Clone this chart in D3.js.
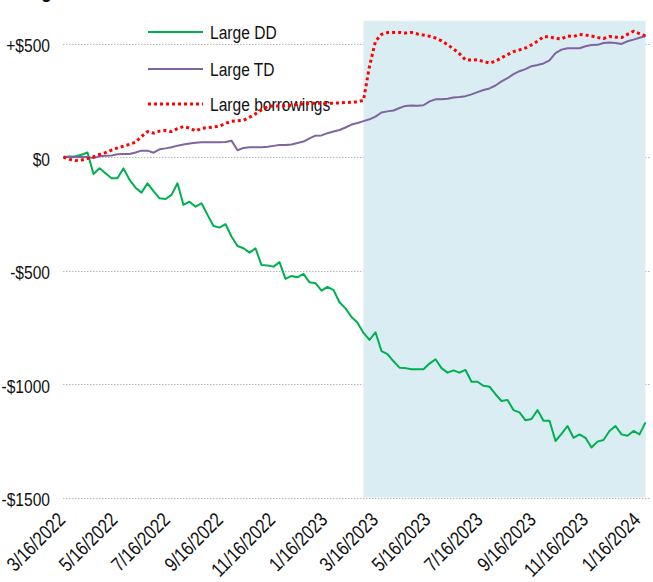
<!DOCTYPE html>
<html>
<head>
<meta charset="utf-8">
<script src="https://cdn.jsdelivr.net/npm/d3@7"></script>
<style>
  html, body { margin: 0; padding: 0; background: #ffffff; }
  svg { display: block; }
  text { font-family: "Liberation Sans", Arial, sans-serif; fill: #111; }
</style>
</head>
<body>
<svg id="chart" width="653" height="582"></svg>
<script>
// ---------- DATA ----------
const dates = [
  "2022-03-16","2022-03-23","2022-03-30","2022-04-06","2022-04-13","2022-04-20","2022-04-27","2022-05-04","2022-05-11","2022-05-18",
  "2022-05-25","2022-06-01","2022-06-08","2022-06-15","2022-06-22","2022-06-29","2022-07-06","2022-07-13","2022-07-20","2022-07-27",
  "2022-08-03","2022-08-10","2022-08-17","2022-08-24","2022-08-31","2022-09-07","2022-09-14","2022-09-21","2022-09-28","2022-10-05",
  "2022-10-12","2022-10-19","2022-10-26","2022-11-02","2022-11-09","2022-11-16","2022-11-23","2022-11-30","2022-12-07","2022-12-14",
  "2022-12-21","2022-12-28","2023-01-04","2023-01-11","2023-01-18","2023-01-25","2023-02-01","2023-02-08","2023-02-15","2023-02-22",
  "2023-03-01","2023-03-08","2023-03-15","2023-03-22","2023-03-29","2023-04-05","2023-04-12","2023-04-19","2023-04-26","2023-05-03",
  "2023-05-10","2023-05-17","2023-05-24","2023-05-31","2023-06-07","2023-06-14","2023-06-21","2023-06-28","2023-07-05","2023-07-12",
  "2023-07-19","2023-07-26","2023-08-02","2023-08-09","2023-08-16","2023-08-23","2023-08-30","2023-09-06","2023-09-13","2023-09-20",
  "2023-09-27","2023-10-04","2023-10-11","2023-10-18","2023-10-25","2023-11-01","2023-11-08","2023-11-15","2023-11-22","2023-11-29",
  "2023-12-06","2023-12-13","2023-12-20","2023-12-27","2024-01-03","2024-01-10","2024-01-17","2024-01-24"
];

const largeDD = [
  0, 2, 3, 10, 20, -75, -50, -72, -94, -94,
  -50, -100, -135, -157, -116, -150, -182, -185, -167, -116,
  -211, -197, -219, -204, -255, -304, -311, -296, -350, -392,
  -402, -421, -402, -476, -478, -483, -463, -537, -524, -530,
  -515, -552, -556, -589, -572, -586, -640, -667, -705, -730,
  -775, -806, -772, -855, -868, -900, -928, -930, -935, -935,
  -935, -910, -891, -930, -950, -940, -950, -938, -990, -990,
  -1008, -1012, -1045, -1075, -1070, -1115, -1125, -1160, -1154, -1115,
  -1162, -1162, -1251, -1220, -1185, -1237, -1222, -1237, -1280, -1254,
  -1247, -1207, -1185, -1222, -1228, -1207, -1222, -1169
];

const largeTD = [
  0, 0, 0, 0, 0, -5, 3, 5, 7, 12,
  13, 13, 20, 28, 28, 19, 34, 38, 43, 50,
  55, 59, 63, 65, 65, 65, 65, 66, 72, 30,
  40, 43, 43, 43, 45, 49, 53, 53, 55, 62,
  68, 82, 94, 95, 105, 112, 119, 130, 143, 150,
  158, 166, 178, 196, 201, 205, 216, 225, 227, 226,
  228, 245, 254, 254, 257, 262, 264, 268, 276, 286,
  295, 302, 315, 333, 347, 365, 378, 387, 400, 405,
  412, 426, 458, 473, 479, 479, 479, 488, 493, 494,
  502, 504, 502, 498, 510, 517, 525, 533
];

const largeBorrowings = [
  0, -10, -16, -13, -7, 1, 11, 19, 30, 40,
  48, 56, 65, 90, 112, 105, 114, 117, 112, 125,
  134, 128, 115, 126, 130, 132, 136, 148, 157, 160,
  162, 175, 190, 207, 222, 225, 225, 226, 228, 232,
  234, 236, 237, 237, 237, 237, 238, 240, 241, 243,
  250, 400, 510, 540, 548, 549, 549, 546, 549, 542,
  537, 532, 524, 512, 495, 476, 455, 428, 427, 429,
  420, 414, 422, 437, 451, 464, 472, 480, 494, 510,
  530, 530, 522, 520, 533, 531, 540, 537, 533, 527,
  522, 531, 528, 526, 540, 554, 543, 533
];

const seriesNames = ["Large DD", "Large TD", "Large borrowings"];
const seriesColors = ["#00b050", "#8064a2", "#ff0000"];

const yTickValues = [500, 0, -500, -1000, -1500];
const yTickLabels = ["+$500", "$0", "-$500", "-$1000", "-$1500"];

const xTickDates = ["2022-03-16","2022-05-16","2022-07-16","2022-09-16","2022-11-16","2023-01-16",
                    "2023-03-16","2023-05-16","2023-07-16","2023-09-16","2023-11-16","2024-01-16"];
const xTickLabels = ["3/16/2022","5/16/2022","7/16/2022","9/16/2022","11/16/2022","1/16/2023",
                     "3/16/2023","5/16/2023","7/16/2023","9/16/2023","11/16/2023","1/16/2024"];

const shadeStart = "2023-03-01";
const shadeEnd = "2024-01-24";
const titleText = "Large banks";

// ---------- CHART ----------
const parse = d3.utcParse("%Y-%m-%d");
const dts = dates.map(parse);
const svg = d3.select("#chart");
const NARROW = 0.82;

const x = d3.scaleUtc().domain([dts[0], dts[dts.length - 1]]).range([63.5, 645.5]);
const y = d3.scaleLinear().domain([-1500, 600]).range([497.5, 20.8]);

function narrowText(parent, tx, ty, size, anchor, txt, rot) {
  return parent.append("text")
    .attr("transform", `translate(${tx},${ty})` + (rot ? ` rotate(${rot})` : "") + ` scale(${NARROW},1)`)
    .attr("text-anchor", anchor)
    .style("font-size", size + "px")
    .text(txt);
}

// title (cut at top as in the reference)
narrowText(svg, 13, -3, 22, "start", titleText).style("font-weight", "bold");

// gridlines
svg.append("g").selectAll("line").data(yTickValues).join("line")
  .attr("x1", 63).attr("x2", 650)
  .attr("y1", d => Math.round(y(d)) + 0.5).attr("y2", d => Math.round(y(d)) + 0.5)
  .attr("stroke", "#b8b8b8").attr("stroke-width", 1).attr("stroke-dasharray", "1.5,1.5");

// shaded region
svg.append("rect")
  .attr("x", x(parse(shadeStart)))
  .attr("y", y(600))
  .attr("width", x(parse(shadeEnd)) - x(parse(shadeStart)))
  .attr("height", y(-1500) - y(600))
  .attr("fill", "#daedf3");

// y axis labels
const yg = svg.append("g");
yTickValues.forEach((v, i) => {
  narrowText(yg, 50, y(v) + 8.5, 19, "end", yTickLabels[i]);
});

// x axis labels (rotated)
const xg = svg.append("g");
xTickDates.forEach((d, i) => {
  narrowText(xg, x(parse(d)) + 3, 521, 20, "end", xTickLabels[i], -45);
});

// legend
const legendY = [32, 69, 104];
const lg = svg.append("g");
seriesNames.forEach((name, i) => {
  lg.append("line").attr("x1", 148).attr("x2", 203).attr("y1", legendY[i]).attr("y2", legendY[i])
    .attr("stroke", seriesColors[i]).attr("stroke-width", i === 2 ? 3 : 2)
    .attr("stroke-dasharray", i === 2 ? "3,3" : null);
  narrowText(lg, 210, legendY[i] + 7, 19, "start", name);
});

// lines
const allSeries = [largeDD, largeTD, largeBorrowings];
const line = d3.line().x((d, i) => x(dts[i])).y(d => y(d));
allSeries.forEach((vals, i) => {
  svg.append("path").datum(vals)
    .attr("d", line)
    .attr("fill", "none")
    .attr("stroke", seriesColors[i])
    .attr("stroke-width", i === 2 ? 3 : 2)
    .attr("stroke-linejoin", "round")
    .attr("stroke-dasharray", i === 2 ? "3,3" : null);
});
</script>
</body>
</html>
